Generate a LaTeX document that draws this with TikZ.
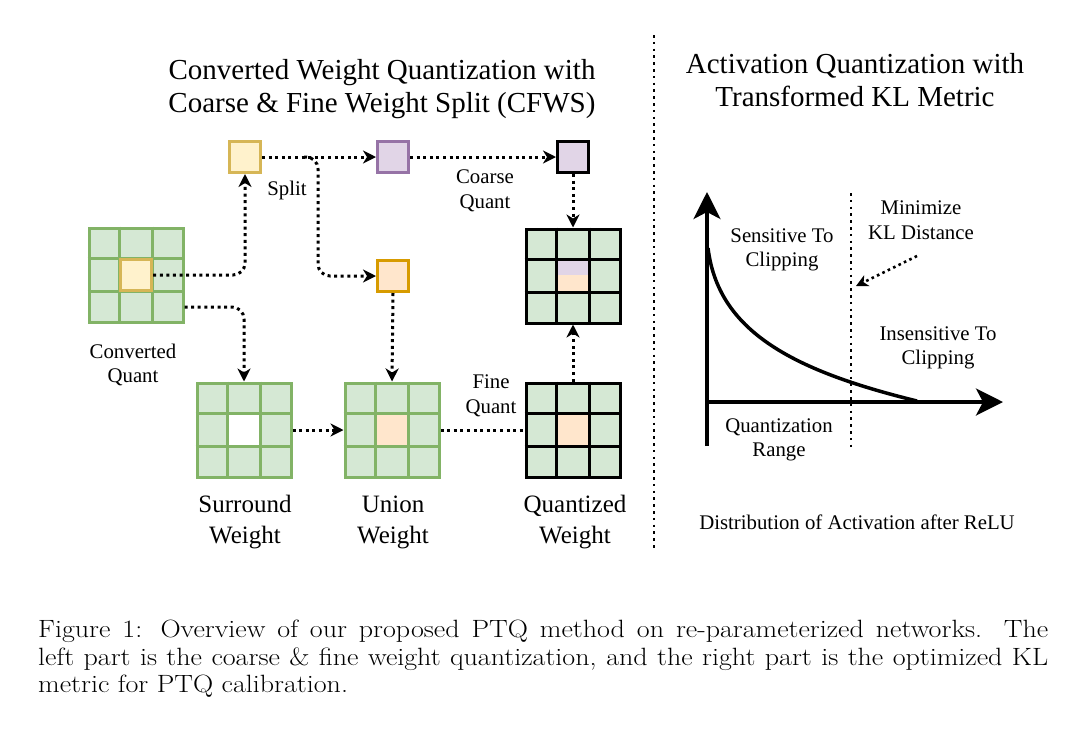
\documentclass[tikz,border=0pt]{standalone}
\usepackage{fontspec}
\usepackage{graphicx}
\newfontfamily\tms{Liberation Serif}
\usetikzlibrary{arrows.meta,calc}
\definecolor{gfill}{HTML}{D5E8D4}
\definecolor{gline}{HTML}{82B366}
\definecolor{yfill}{HTML}{FFF2CC}
\definecolor{yline}{HTML}{D6B656}
\definecolor{pfill}{HTML}{E1D5E7}
\definecolor{pline}{HTML}{9673A6}
\definecolor{ofill}{HTML}{FFE6CC}
\definecolor{oline}{HTML}{D79B00}
\tikzset{
  gridbox/.style={rectangle, minimum size=94pt, inner sep=0pt, line width=3pt, fill=gfill},
  cellbox/.style={rectangle, minimum size=31.3pt, inner sep=0pt},
  sqbox/.style={rectangle, minimum size=31pt, inner sep=0pt, line width=3pt},
  conn/.style={line width=3pt, dash pattern=on 3pt off 3.6pt, black},
  tip/.style={-{Stealth[length=13pt,width=13pt,inset=4pt]}},
  bigtip/.style={-{Stealth[length=27pt,width=27pt,inset=7pt]}},
  lbl/.style={font=\tms\fontsize{20.8}{24.6}\selectfont, align=center, inner sep=0pt},
  big/.style={font=\tms\fontsize{25}{31}\selectfont, align=center, inner sep=0pt},
  ttl/.style={font=\tms\fontsize{29}{33}\selectfont, align=center, inner sep=0pt},
}
\newcommand{\wgrid}[4]{%
  \node[gridbox, draw=#3] (#1) at (#2) {};
  \node[cellbox, fill=#4] (#1c) at (#1.center) {};
  \foreach \f in {0.3333,0.6667} {
    \draw[line width=3pt, draw=#3] ($(#1.north west)!\f!(#1.north east)$) -- ($(#1.south west)!\f!(#1.south east)$);
    \draw[line width=3pt, draw=#3] ($(#1.north west)!\f!(#1.south west)$) -- ($(#1.north east)!\f!(#1.south east)$);
  }
}
\begin{document}
\begin{tikzpicture}[x=1pt,y=-1pt]
\useasboundingbox[fill=white] (0,0) rectangle (1080,729);
% titles
\node[ttl] (t1) at (382,89) {Converted Weight Quantization with\\Coarse \& Fine Weight Split (CFWS)};
\node[ttl] (t2) at (855,80) {Activation Quantization with\\Transformed KL Metric};
% separator
\coordinate (sepa) at (654,35);
\coordinate (sepb) at (654,550);
\draw[line width=2.6pt, dash pattern=on 2.6pt off 4.2pt] (sepa) -- (sepb);
% grids
\wgrid{G}{136,275}{gline}{gfill}
\node[cellbox, fill=yfill, draw=yline, line width=3pt] (Gy) at (G.center) {};
\wgrid{S}{244,430}{gline}{white}
\wgrid{N}{392,430}{gline}{ofill}
\wgrid{Q}{573,430}{black}{ofill}
\node[gridbox, draw=black] (U) at (573,276) {};
\node[cellbox, fill=pfill, minimum height=14.2pt] (Up) at (573,267.4) {};
\node[cellbox, fill=ofill, minimum height=17.2pt] (Uo) at (573,283.1) {};
\foreach \f in {0.3333,0.6667} {
  \draw[line width=3pt] ($(U.north west)!\f!(U.north east)$) -- ($(U.south west)!\f!(U.south east)$);
  \draw[line width=3pt] ($(U.north west)!\f!(U.south west)$) -- ($(U.north east)!\f!(U.south east)$);
}
% squares
\node[sqbox, fill=yfill, draw=yline] (Y) at (245,157) {};
\node[sqbox, fill=pfill, draw=pline] (P1) at (393,157) {};
\node[sqbox, fill=pfill, draw=black] (P2) at (573,157) {};
\node[sqbox, fill=ofill, draw=oline] (O) at (393,276) {};
% connectors
\draw[conn, tip, rounded corners=12pt] (Gy.east) -| (Y.south);
\coordinate (gq) at ($(G.east)+(0,32)$);
\draw[conn, tip, rounded corners=12pt] (gq) -| (S.north);
\draw[conn, tip] (Y.east) -- (P1.west);
\coordinate (br) at (304,157);
\coordinate (brd) at (318,276);
\draw[conn, tip, rounded corners=12pt] (br) -| (brd) -- (O.west);
\draw[conn, tip] (P1.east) -- (P2.west);
\draw[conn, tip] (P2.south) -- (U.north);
\draw[conn, tip] (O.south) -- (N.north);
\draw[conn, tip] (S.east) -- (N.west);
\draw[conn] (N.east) -- (Q.west);
\draw[conn, tip] (Q.north) -- (U.south);
% left labels
\node[lbl] (lsplit) at (287,190) {Split};
\node[lbl] (lcoarse) at (485,191) {Coarse\\Quant};
\node[lbl] (lconv) at (133,365) {Converted\\Quant};
\node[lbl] (lfine) at (491,396) {Fine\\Quant};
\node[big] (lsur) at (245,522) {Surround\\Weight};
\node[big] (luni) at (393,522) {Union\\Weight};
\node[big] (lqua) at (575,522) {Quantized\\Weight};
% right plot
\coordinate (org) at (707,402);
\coordinate (ybot) at (707,446);
\coordinate (ytop) at (707,192);
\coordinate (xend) at (1003,402);
\draw[line width=3.5pt, bigtip] (ybot) -- (ytop);
\draw[line width=3.5pt, bigtip] (org) -- (xend);
\coordinate (va) at (851,193);
\coordinate (vb) at (851,447);
\draw[line width=2.6pt, dash pattern=on 2.6pt off 4.2pt] (va) -- (vb);
\coordinate (ca) at (708,248);
\coordinate (cb) at (917,401);
\draw[line width=3.5pt] (ca) .. controls (718,330) and (790,370) .. (cb);
\coordinate (kla) at (917,256);
\coordinate (klb) at (856,286);
\draw[line width=2.6pt, dash pattern=on 2.6pt off 3.4pt, -{Stealth[length=12pt,width=12pt,inset=3.5pt]}] (kla) -- (klb);
\node[lbl] (rsens) at (782,250) {Sensitive To\\Clipping};
\node[lbl] (rmin) at (921,220) {Minimize\\KL Distance};
\node[lbl] (rins) at (938,348) {Insensitive To\\Clipping};
\node[lbl] (rqr) at (779,440) {Quantization\\Range};
\node[lbl] (rdist) at (857,522) {Distribution of Activation after ReLU};
% caption
\node[anchor=north west, inner sep=0pt] (cap) at (38,620) {\scalebox{1.12}[1]{\parbox[t]{901.8pt}{\fontsize{25}{27.6}\selectfont\hyphenpenalty=10000 Figure 1: Overview of our proposed PTQ method on re-parameterized networks. The\linebreak left part is the coarse \& fine weight quantization, and the right part is the optimized KL\linebreak metric for PTQ calibration.}}};
\end{tikzpicture}
\end{document}
